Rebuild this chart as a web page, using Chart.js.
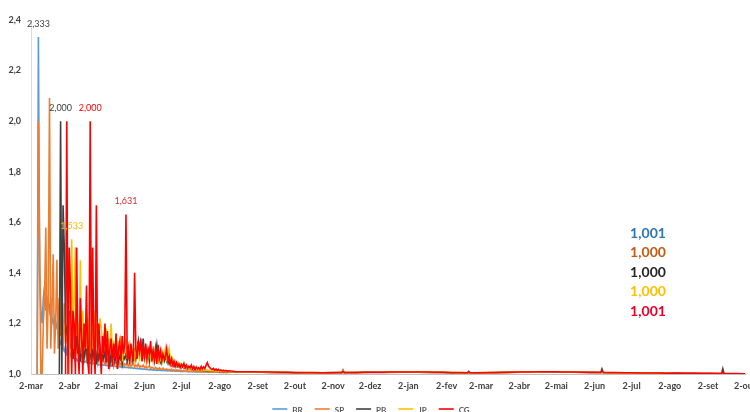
<!DOCTYPE html>
<html>
<head>
<meta charset="utf-8">
<script src="https://cdn.jsdelivr.net/npm/chart.js@4/dist/chart.umd.min.js"></script>
<style>
  html, body { margin: 0; padding: 0; background: #ffffff; }
  #wrap { width: 750px; height: 412px; }
</style>
</head>
<body>
<div id="wrap"><canvas id="c" width="750" height="412"></canvas></div>
<script>
// Daily growth factor of cumulative totals (today / yesterday), day 0 = 2-mar-2020.
// Daily readings for days 0..160, then sparser readings (listed in laterDays) up to day 579.
const seriesNames = ['BR', 'SP', 'PB', 'JP', 'CG'];

const brDaily = [
  null,null,null,null,null,1.0,2.333,1.4,1.25,1.2,
  1.3,1.35,1.25,1.3,1.28,1.25,1.3,1.22,1.2,1.22,
  1.18,1.2,1.16,1.14,1.12,1.13,1.1,1.09,1.11,1.08,
  1.09,1.07,1.08,1.06,1.07,1.06,1.05,1.06,1.05,1.055,
  1.05,1.048,1.052,1.045,1.05,1.047,1.044,1.046,1.042,1.045,
  1.04,1.043,1.041,1.038,1.04,1.036,1.039,1.035,1.037,1.034,
  1.036,1.033,1.035,1.032,1.034,1.031,1.033,1.03,1.032,1.029,
  1.031,1.028,1.03,1.027,1.029,1.026,1.028,1.025,1.027,1.024,
  1.026,1.023,1.025,1.022,1.024,1.021,1.023,1.02,1.022,1.019,
  1.021,1.018,1.02,1.018,1.019,1.017,1.018,1.016,1.018,1.015,
  1.017,1.015,1.016,1.014,1.016,1.014,1.015,1.013,1.015,1.013,
  1.014,1.012,1.014,1.012,1.013,1.011,1.013,1.011,1.012,1.011,
  1.012,1.01,1.011,1.01,1.011,1.01,1.011,1.009,1.01,1.009,
  1.01,1.009,1.01,1.008,1.009,1.008,1.009,1.008,1.009,1.008,
  1.009,1.008,1.008,1.007,1.008,1.007,1.008,1.007,1.008,1.007,
  1.008,1.007,1.007,1.006,1.007,1.006,1.007,1.006,1.007,1.006,1.007
];
const spDaily = [
  null,null,null,null,null,1.0,2.0,1.5,1.0,1.0,
  1.2,1.3,1.579,1.1,1.3,2.092,1.1,1.25,1.474,1.08,
  1.2,1.452,1.1,1.3,1.15,1.22,1.1,1.28,1.12,1.18,
  1.09,1.15,1.2,1.08,1.12,1.16,1.07,1.1,1.13,1.06,
  1.09,1.11,1.05,1.08,1.1,1.06,1.09,1.05,1.07,1.08,
  1.05,1.07,1.06,1.08,1.04,1.06,1.07,1.04,1.06,1.05,
  1.04,1.06,1.05,1.07,1.04,1.05,1.06,1.03,1.05,1.04,
  1.05,1.03,1.045,1.035,1.05,1.03,1.04,1.035,1.045,1.03,
  1.04,1.03,1.035,1.045,1.028,1.035,1.03,1.04,1.026,1.032,
  1.028,1.035,1.025,1.03,1.024,1.028,1.032,1.022,1.027,1.024,
  1.02,1.026,1.022,1.019,1.024,1.02,1.018,1.023,1.019,1.017,
  1.02,1.016,1.018,1.015,1.019,1.014,1.017,1.013,1.016,1.014,
  1.015,1.012,1.014,1.011,1.013,1.012,1.011,1.013,1.01,1.012,
  1.011,1.01,1.012,1.009,1.011,1.01,1.009,1.011,1.008,1.01,
  1.009,1.008,1.01,1.008,1.009,1.007,1.009,1.008,1.007,1.009,
  1.008,1.007,1.008,1.006,1.008,1.007,1.006,1.008,1.006,1.007,1.006
];
const pbDaily = [
  null,null,null,null,null,null,null,null,null,null,
  null,null,null,null,null,null,null,null,null,null,
  null,null,null,1.0,2.0,1.0,1.667,1.5,1.2,1.167,
  1.143,1.25,1.1,1.18,1.06,1.12,1.1,1.15,1.08,1.12,
  1.05,1.1,1.13,1.06,1.09,1.12,1.04,1.08,1.1,1.05,
  1.09,1.07,1.11,1.04,1.08,1.06,1.1,1.05,1.08,1.06,
  1.09,1.05,1.07,1.1,1.04,1.08,1.06,1.09,1.05,1.07,
  1.08,1.05,1.07,1.09,1.04,1.07,1.06,1.08,1.05,1.07,
  1.06,1.08,1.05,1.07,1.09,1.06,1.1,1.13,1.07,1.12,
  1.08,1.14,1.06,1.1,1.07,1.09,1.05,1.08,1.06,1.09,
  1.05,1.08,1.115,1.06,1.07,1.05,1.08,1.06,1.05,1.07,
  1.05,1.06,1.04,1.05,1.035,1.045,1.03,1.04,1.03,1.035,
  1.028,1.033,1.025,1.03,1.022,1.028,1.02,1.025,1.02,1.022,
  1.018,1.022,1.017,1.02,1.016,1.018,1.015,1.017,1.014,1.016,
  1.014,1.015,1.013,1.014,1.012,1.013,1.012,1.013,1.011,1.012,
  1.011,1.012,1.01,1.011,1.01,1.011,1.009,1.01,1.009,1.01,1.009
];
const jpDaily = [
  null,null,null,null,null,null,null,null,null,null,
  null,null,null,null,null,null,null,null,null,null,
  null,null,null,null,null,null,null,null,null,null,
  null,1.0,1.25,1.533,1.1,1.3,1.5,1.15,1.2,1.1,
  1.45,1.08,1.25,1.12,1.2,1.1,1.22,1.15,1.08,1.18,
  1.1,1.25,1.12,1.2,1.1,1.15,1.22,1.18,1.08,1.16,
  1.1,1.18,1.06,1.14,1.09,1.2,1.07,1.12,1.1,1.16,
  1.06,1.13,1.08,1.15,1.05,1.11,1.09,1.14,1.06,1.1,
  1.12,1.05,1.09,1.11,1.06,1.1,1.08,1.12,1.05,1.09,
  1.07,1.1,1.06,1.09,1.05,1.08,1.1,1.06,1.08,1.05,
  1.09,1.06,1.07,1.05,1.08,1.06,1.09,1.05,1.07,1.1,
  1.06,1.08,1.1,1.05,1.04,1.06,1.04,1.05,1.035,1.045,
  1.03,1.04,1.028,1.035,1.025,1.032,1.022,1.03,1.02,1.026,
  1.02,1.024,1.018,1.022,1.017,1.02,1.016,1.019,1.015,1.018,
  1.015,1.017,1.014,1.016,1.013,1.015,1.012,1.014,1.012,1.013,
  1.011,1.013,1.011,1.012,1.01,1.012,1.01,1.011,1.009,1.011,1.009
];
const cgDaily = [
  null,null,null,null,null,null,null,null,null,null,
  null,null,null,null,null,null,null,null,null,null,
  null,null,null,null,null,null,null,null,1.0,2.0,
  1.0,1.5,1.333,1.0,1.25,1.2,1.0,1.5,1.111,1.0,
  1.3,1.154,1.0,1.2,1.1,1.35,1.05,1.0,2.0,1.0,
  1.5,1.1,1.0,1.667,1.05,1.2,1.1,1.0,1.15,1.08,
  1.2,1.05,1.17,1.02,1.1,1.14,1.03,1.12,1.06,1.16,
  1.02,1.1,1.13,1.05,1.15,1.08,1.12,1.631,1.06,1.1,
  1.04,1.12,1.08,1.05,1.4,1.1,1.06,1.13,1.09,1.14,
  1.05,1.11,1.07,1.12,1.06,1.1,1.08,1.13,1.05,1.09,
  1.06,1.1,1.04,1.115,1.06,1.09,1.05,1.08,1.06,1.07,
  1.1,1.05,1.07,1.04,1.06,1.035,1.05,1.03,1.045,1.03,
  1.04,1.025,1.038,1.03,1.042,1.025,1.035,1.022,1.03,1.025,
  1.035,1.02,1.03,1.018,1.028,1.02,1.025,1.018,1.03,1.02,
  1.028,1.022,1.035,1.045,1.03,1.025,1.02,1.018,1.022,1.015,
  1.02,1.014,1.018,1.013,1.016,1.012,1.015,1.012,1.014,1.011,1.013
];

// Days of the later readings
const laterDays = [
  166,173,180,187,194,201,208,215,222,229,
  236,243,250,252,253,254,257,264,271,278,
  285,292,299,306,313,320,327,334,341,348,
  354,355,356,362,369,376,383,390,397,404,
  411,418,425,432,439,446,453,460,462,463,
  464,467,474,481,488,495,502,509,516,523,
  530,537,544,551,558,560,561,562,565,572,
  579
];
const brLater = [
  1.009,1.008,1.008,1.007,1.007,1.006,1.006,1.005,1.005,1.005,
  1.004,1.004,1.005,1.005,1.006,1.005,1.005,1.006,1.006,1.006,
  1.006,1.007,1.007,1.007,1.008,1.007,1.007,1.006,1.005,1.004,
  1.005,1.005,1.005,1.004,1.005,1.005,1.006,1.007,1.007,1.008,
  1.009,1.009,1.008,1.008,1.007,1.007,1.006,1.006,1.006,1.007,
  1.006,1.005,1.004,1.004,1.003,1.003,1.003,1.002,1.002,1.002,
  1.002,1.002,1.001,1.001,1.001,1.001,1.002,1.001,1.001,1.001,
  1.001
];
const spLater = [
  1.008,1.008,1.007,1.007,1.006,1.006,1.005,1.005,1.004,1.004,
  1.004,1.004,1.005,1.005,1.012,1.005,1.005,1.005,1.006,1.006,
  1.006,1.006,1.007,1.007,1.007,1.007,1.006,1.006,1.005,1.004,
  1.004,1.006,1.004,1.004,1.004,1.005,1.005,1.006,1.007,1.007,
  1.008,1.008,1.008,1.007,1.007,1.006,1.006,1.005,1.005,1.008,
  1.005,1.005,1.004,1.004,1.003,1.003,1.002,1.002,1.002,1.002,
  1.001,1.001,1.001,1.001,1.001,1.001,1.003,1.001,1.001,1.0,
  1.0
];
const pbLater = [
  1.008,1.008,1.007,1.007,1.006,1.006,1.006,1.005,1.005,1.005,
  1.005,1.006,1.006,1.006,1.016,1.006,1.006,1.006,1.007,1.007,
  1.007,1.007,1.007,1.007,1.007,1.006,1.006,1.006,1.005,1.005,
  1.005,1.01,1.005,1.005,1.005,1.006,1.006,1.007,1.007,1.008,
  1.008,1.008,1.008,1.007,1.007,1.007,1.006,1.006,1.006,1.02,
  1.006,1.005,1.005,1.004,1.004,1.004,1.003,1.003,1.003,1.003,
  1.003,1.003,1.002,1.002,1.002,1.002,1.021,1.002,1.001,1.001,
  1.0
];
const jpLater = [
  1.009,1.008,1.008,1.007,1.007,1.006,1.006,1.006,1.005,1.005,
  1.005,1.005,1.006,1.006,1.013,1.006,1.006,1.006,1.006,1.007,
  1.007,1.007,1.008,1.008,1.007,1.007,1.007,1.006,1.006,1.005,
  1.005,1.008,1.006,1.005,1.005,1.006,1.006,1.007,1.007,1.008,
  1.008,1.009,1.009,1.008,1.008,1.007,1.007,1.006,1.006,1.01,
  1.006,1.005,1.005,1.004,1.004,1.004,1.003,1.003,1.003,1.002,
  1.002,1.002,1.002,1.002,1.002,1.002,1.006,1.002,1.001,1.001,
  1.0
];
const cgLater = [
  1.01,1.009,1.009,1.008,1.008,1.007,1.007,1.006,1.006,1.006,
  1.005,1.005,1.006,1.006,1.01,1.006,1.006,1.006,1.007,1.007,
  1.007,1.008,1.008,1.008,1.008,1.008,1.007,1.007,1.006,1.006,
  1.005,1.009,1.006,1.005,1.006,1.006,1.007,1.007,1.008,1.008,
  1.009,1.009,1.009,1.008,1.008,1.007,1.007,1.007,1.006,1.012,
  1.007,1.006,1.006,1.005,1.005,1.004,1.004,1.004,1.003,1.004,
  1.003,1.003,1.003,1.003,1.002,1.002,1.008,1.002,1.002,1.002,
  1.001
];

// Axis ticks: the 2nd of each month
const tickDays   = [0, 31, 61, 92, 122, 153, 184, 214, 245, 275, 306, 337, 365, 396, 426, 457, 487, 518, 549, 579];
const tickLabels = ['2-mar','2-abr','2-mai','2-jun','2-jul','2-ago','2-set','2-out','2-nov','2-dez',
                    '2-jan','2-fev','2-mar','2-abr','2-mai','2-jun','2-jul','2-ago','2-set','2-out'];

// Peaks that carry a value label: [series index, day, text colour]
const peakLabels = [[0, 6, '#404040'], [2, 24, '#404040'], [4, 48, '#FF0000'], [3, 33, '#F5B800'], [4, 77, '#E02A2A']];

const lineColors  = ['#5B9BD5', '#ED7D31', '#404040', '#FFC000', '#FF0000'];
const finalColors = ['#2E75B6', '#C55A11', '#262626', '#FFC000', '#E8002A'];

const dailySets = [brDaily, spDaily, pbDaily, jpDaily, cgDaily];
const laterSets = [brLater, spLater, pbLater, jpLater, cgLater];

function toPoints(daily, later) {
  const pts = daily.map((v, i) => ({ x: i, y: v }));
  later.forEach((v, j) => pts.push({ x: laterDays[j], y: v }));
  return pts;
}
const fmt = (v, d) => v.toFixed(d).replace('.', ',');
const FONT = 'Lato, "Open Sans", sans-serif';

const datasets = seriesNames.map((name, k) => ({
  label: name,
  data: toPoints(dailySets[k], laterSets[k]),
  borderColor: lineColors[k],
  backgroundColor: lineColors[k],
  borderWidth: 1.6,
  pointRadius: 0,
  tension: 0,
  spanGaps: false,
  order: seriesNames.length - k
}));

// Value labels over the marked peaks, end-of-period values and the legend row
const annotate = {
  id: 'annotate',
  afterDatasetsDraw(chart) {
    const { ctx, scales: { x, y } } = chart;
    ctx.save();
    ctx.textAlign = 'center';
    ctx.textBaseline = 'middle';
    ctx.font = '9px ' + FONT;
    peakLabels.forEach(([k, day, color]) => {
      const v = dailySets[k][day];
      ctx.fillStyle = color;
      ctx.fillText(fmt(v, 3), x.getPixelForValue(day), y.getPixelForValue(v) - 13);
    });

    ctx.font = 'bold 14px ' + FONT;
    laterSets.forEach((w, k) => {
      ctx.fillStyle = finalColors[k];
      ctx.fillText(fmt(w[w.length - 1], 3), 648, 233 + k * 19.5);
    });

    // legend
    ctx.font = 'bold 8px ' + FONT;
    const lineW = 15, gap = 5, itemGap = 12;
    const widths = seriesNames.map(n => ctx.measureText(n).width);
    const total = widths.reduce((s, w) => s + lineW + gap + w, 0) + itemGap * (seriesNames.length - 1);
    let lx = 371 - total / 2;
    const ly = 409;
    ctx.textAlign = 'left';
    seriesNames.forEach((n, k) => {
      ctx.strokeStyle = lineColors[k];
      ctx.lineWidth = 1.6;
      ctx.beginPath();
      ctx.moveTo(lx, ly);
      ctx.lineTo(lx + lineW, ly);
      ctx.stroke();
      ctx.fillStyle = '#595959';
      ctx.fillText(n, lx + lineW + gap, ly + 1);
      lx += lineW + gap + widths[k] + itemGap;
    });
    ctx.restore();
  }
};

new Chart(document.getElementById('c'), {
  type: 'line',
  data: { datasets },
  options: {
    responsive: false,
    animation: false,
    layout: { padding: { top: 20, right: 5, bottom: 0, left: 0 } },
    plugins: { legend: { display: false }, tooltip: { enabled: false } },
    scales: {
      x: {
        type: 'linear',
        min: 0,
        max: 579,
        grid: { display: false, drawTicks: false },
        border: { display: true, color: '#bfbfbf', width: 1 },
        afterBuildTicks: axis => { axis.ticks = tickDays.map(v => ({ value: v })); },
        afterFit: axis => { axis.height = 38; axis.paddingLeft = 0; axis.paddingRight = 0; },
        ticks: {
          autoSkip: false, maxRotation: 0, minRotation: 0, padding: 7,
          color: '#404040',
          font: { family: FONT, size: 9, weight: 'bold' },
          callback: (value, index) => tickLabels[index]
        }
      },
      y: {
        min: 1.0,
        max: 2.4,
        grid: { display: false, drawTicks: false },
        border: { display: true, color: '#d9d9d9', width: 1 },
        afterFit: axis => { axis.width = 31; },
        ticks: {
          stepSize: 0.2, padding: 10,
          color: '#404040',
          font: { family: FONT, size: 9, weight: 'bold' },
          callback: value => fmt(value, 1)
        }
      }
    }
  },
  plugins: [annotate]
});
</script>
</body>
</html>
